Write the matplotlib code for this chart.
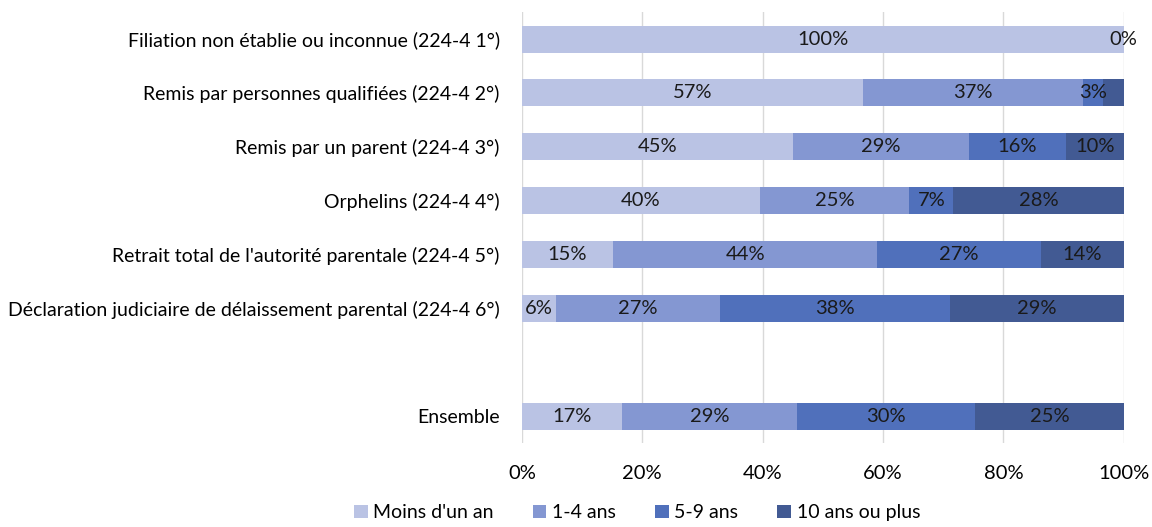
import matplotlib.pyplot as plt
import numpy as np

plt.rcParams['font.family'] = ['Lato', 'DejaVu Sans']

# categories, top to bottom (empty slot before "Ensemble")
categories = [
    "Filiation non établie ou inconnue (224-4 1°)",
    "Remis par personnes qualifiées (224-4 2°)",
    "Remis par un parent (224-4 3°)",
    "Orphelins (224-4 4°)",
    "Retrait total de l'autorité parentale (224-4 5°)",
    "Déclaration judiciaire de délaissement parental (224-4 6°)",
    "Ensemble",
]
positions = [7, 6, 5, 4, 3, 2, 0]

series_names = ["Moins d'un an", "1-4 ans", "5-9 ans", "10 ans ou plus"]
moins_un_an = [100.0, 56.6, 45.1, 39.6, 15.2, 5.6, 16.7]
un_quatre = [0.0, 36.6, 29.2, 24.8, 43.8, 27.3, 29.0]
cinq_neuf = [0.0, 3.4, 16.1, 7.3, 27.3, 38.3, 29.6]
dix_plus = [0.0, 3.4, 9.6, 28.3, 13.7, 28.8, 24.7]

# data labels as displayed ("" = not shown)
labels_moins = ["100%", "57%", "45%", "40%", "15%", "6%", "17%"]
labels_un = ["0%", "37%", "29%", "25%", "44%", "27%", "29%"]
labels_cinq = ["", "3%", "16%", "7%", "27%", "38%", "30%"]
labels_dix = ["", "", "10%", "28%", "14%", "29%", "25%"]

colors = ["#BAC3E4", "#8497D2", "#5070BB", "#425A93"]

fig = plt.figure(figsize=(11.52, 5.27), dpi=100)
ax = fig.add_axes([0.453, 0.159, 0.5225, 0.818])

series = [moins_un_an, un_quatre, cinq_neuf, dix_plus]
all_labels = [labels_moins, labels_un, labels_cinq, labels_dix]
left = np.zeros(len(categories))
for vals, labs, name, col in zip(series, all_labels, series_names, colors):
    vals = np.array(vals)
    ax.barh(positions, vals, left=left, height=0.5, color=col, label=name, zorder=2)
    for y, l, v, t in zip(positions, left, vals, labs):
        if t:
            ax.text(l + v / 2, y, t, ha='center', va='center',
                    fontsize=14.5, color='#1a1a1a', zorder=3)
    left = left + vals

ax.set_xlim(0, 100)
ax.set_ylim(-0.5, 7.5)
ax.set_xticks([0, 20, 40, 60, 80, 100])
ax.set_xticklabels(["0%", "20%", "40%", "60%", "80%", "100%"], fontsize=14.5)
ax.set_yticks(positions)
ax.set_yticklabels(categories, fontsize=14)
ax.tick_params(length=0)
ax.tick_params(axis='x', pad=16)
ax.tick_params(axis='y', pad=16)
ax.xaxis.grid(True, color='#D9D9D9', linewidth=1, zorder=0)
for s in ax.spines.values():
    s.set_visible(False)

fig.legend(loc='center', bbox_to_anchor=(0.553, 0.027), ncol=4, frameon=False,
           fontsize=14, handlelength=0.7, handleheight=0.7, handletextpad=0.3,
           columnspacing=2.0)

fig.savefig('out.png', dpi=100)
